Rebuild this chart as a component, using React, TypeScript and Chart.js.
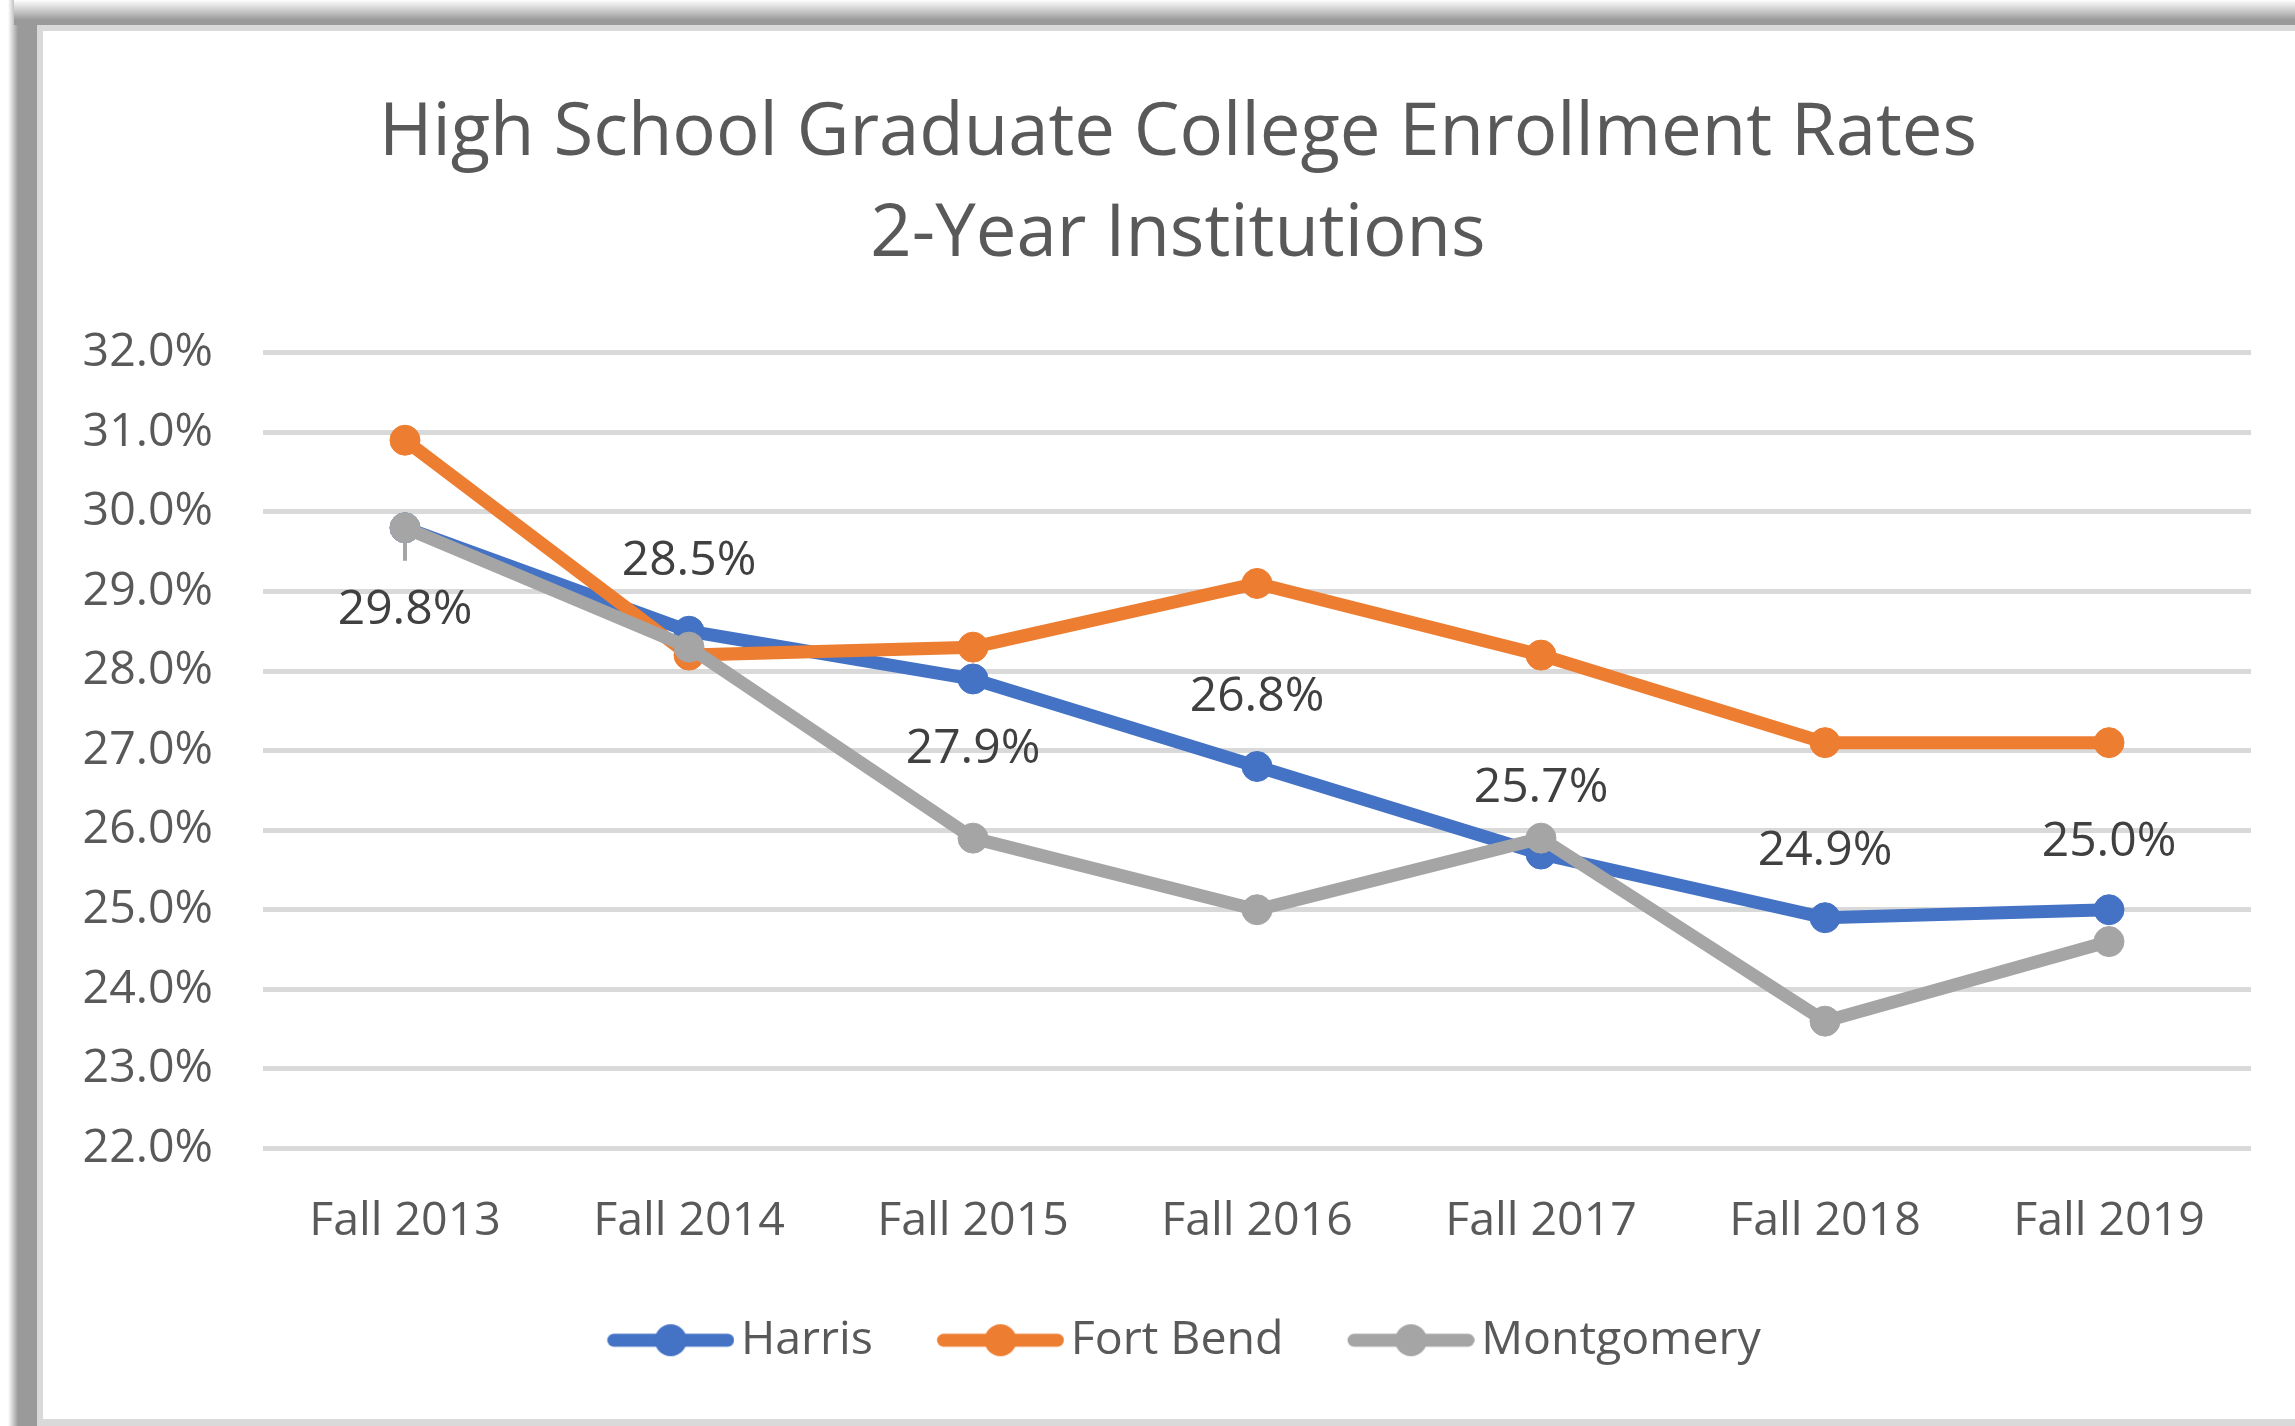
import React, { useEffect, useRef } from "react";
import { Chart, registerables } from "chart.js";

Chart.register(...registerables);

// ---- data ----
const categories = ["Fall 2013", "Fall 2014", "Fall 2015", "Fall 2016", "Fall 2017", "Fall 2018", "Fall 2019"];
const seriesNames = ["Harris", "Fort Bend", "Montgomery"];
const harris = [29.8, 28.5, 27.9, 26.8, 25.7, 24.9, 25.0];
const fortBend = [30.9, 28.2, 28.3, 29.1, 28.2, 27.1, 27.1];
const montgomery = [29.8, 28.3, 25.9, 25.0, 25.9, 23.6, 24.6];
const yMin = 22;
const yMax = 32;
const yStep = 1;
const titleLines = ["High School Graduate College Enrollment Rates", "2-Year Institutions"];

// ---- styles ----
const COLORS = ["#4472C4", "#ED7D31", "#A5A5A5"];
const FONT = "'Open Sans', 'Noto Sans', sans-serif";
const TEXT = "#595959";
// vertical offset (px) of each Harris data label from its point
const harrisLabelOffsets = [79, -73, 67, -73, -69, -70, -71];
// horizontal nudges of the title and legend blocks (px)
const TITLE_SHIFT = 16;
const LEGEND_SHIFT = 22;

const CW = 2252;
const CH = 1388;

function makeLegendSymbol(color: string): HTMLCanvasElement {
  const c = document.createElement("canvas");
  c.width = 144;
  c.height = 36;
  const ctx = c.getContext("2d")!;
  const a = 16.75;
  const L = 127;
  const cy = 18;
  ctx.strokeStyle = color;
  ctx.lineWidth = 13;
  ctx.lineCap = "round";
  ctx.beginPath();
  ctx.moveTo(a + 6.5, cy);
  ctx.lineTo(a + L - 6.5, cy);
  ctx.stroke();
  ctx.fillStyle = color;
  ctx.beginPath();
  ctx.arc(a + L / 2, cy, 16, 0, Math.PI * 2);
  ctx.fill();
  return c;
}

const harrisLabelPlugin = {
  id: "harrisLabels",
  afterDatasetsDraw(chart: any) {
    const meta = chart.getDatasetMeta(0);
    const ctx = chart.ctx as CanvasRenderingContext2D;
    ctx.save();
    ctx.font = `48px ${FONT}`;
    ctx.fillStyle = "#404040";
    ctx.textAlign = "center";
    ctx.textBaseline = "middle";
    meta.data.forEach((pt: any, i: number) => {
      const off = harrisLabelOffsets[i];
      if (i === 0) {
        ctx.strokeStyle = "#A5A5A5";
        ctx.lineWidth = 4;
        ctx.beginPath();
        ctx.moveTo(pt.x, pt.y + 14);
        ctx.lineTo(pt.x, pt.y + 33);
        ctx.stroke();
      }
      ctx.fillText(harris[i].toFixed(1) + "%", pt.x, pt.y + off + 3.4);
    });
    ctx.restore();
  },
};

const shiftBlocksPlugin = {
  id: "shiftBlocks",
  afterLayout(chart: any) {
    const t = chart.titleBlock;
    if (t) {
      t.left += TITLE_SHIFT;
      t.right += TITLE_SHIFT;
    }
    const l = chart.legend;
    if (l) {
      l.left += LEGEND_SHIFT;
      l.right += LEGEND_SHIFT;
    }
  },
};

export default function App() {
  const ref = useRef<HTMLCanvasElement | null>(null);

  useEffect(() => {
    if (!ref.current) return;
    const symbols = COLORS.map(makeLegendSymbol);
    const seriesData = [harris, fortBend, montgomery];
    const chart = new Chart(ref.current, {
      type: "line",
      data: {
        labels: categories,
        datasets: seriesNames.map((name, i) => ({
          label: name,
          data: seriesData[i],
          borderColor: COLORS[i],
          backgroundColor: COLORS[i],
          pointBackgroundColor: COLORS[i],
          pointBorderColor: COLORS[i],
          borderWidth: 13,
          pointRadius: 15,
          pointBorderWidth: 1,
          tension: 0,
          fill: false,
          order: 2 - i,
        })),
      },
      options: {
        responsive: false,
        animation: false,
        devicePixelRatio: 1,
        layout: { padding: { left: 30, right: 44, top: 0, bottom: 45.5 } },
        scales: {
          x: {
            type: "category",
            offset: true,
            grid: { display: false },
            border: { display: false },
            ticks: {
              color: TEXT,
              font: { family: FONT, size: 46.5 },
              padding: 37,
              maxRotation: 0,
              autoSkip: false,
            },
            afterFit: (s: any) => {
              s.height = 104.5;
            },
          },
          y: {
            min: yMin,
            max: yMax,
            grid: { color: "#D9D9D9", lineWidth: 5, drawTicks: false },
            border: { display: false },
            ticks: {
              stepSize: yStep,
              color: TEXT,
              font: { family: FONT, size: 46.5 },
              padding: 50,
              callback: (v: any) => Number(v).toFixed(1) + "%",
            },
            afterFit: (s: any) => {
              s.width = 190;
            },
          },
        },
        plugins: {
          title: {
            display: true,
            text: titleLines,
            color: TEXT,
            font: { family: FONT, size: 72.5, weight: "normal", lineHeight: 101 / 72.5 },
            padding: { top: 52.5, bottom: 67.2 },
          },
          legend: {
            position: "bottom",
            labels: {
              usePointStyle: true,
              pointStyleWidth: 110.5,
              padding: 64,
              color: TEXT,
              font: { family: FONT, size: 46.5 },
              generateLabels: () =>
                seriesNames.map((name, i) => ({
                  text: name,
                  pointStyle: symbols[i] as any,
                  fillStyle: COLORS[i],
                  strokeStyle: "rgba(0,0,0,0)",
                  lineWidth: 0,
                  hidden: false,
                  datasetIndex: i,
                  fontColor: TEXT,
                })),
            },
          },
          tooltip: { enabled: false },
        },
      } as any,
      plugins: [harrisLabelPlugin, shiftBlocksPlugin],
    });
    return () => chart.destroy();
  }, []);

  return (
    <div style={{ position: "absolute", left: 0, top: 0, width: 2295, height: 1426, overflow: "hidden", background: "#ffffff" }}>
      <div
        style={{
          position: "absolute",
          left: 0,
          top: 0,
          width: 37,
          height: 1426,
          background: "linear-gradient(to right, #ffffff 8px, #9a9a9a 18px, #9a9a9a 37px)",
        }}
      />
      <div
        style={{
          position: "absolute",
          left: 14,
          top: 0,
          width: 2281,
          height: 25,
          background: "linear-gradient(to bottom, #ffffff 0px, #9a9a9a 20px, #9a9a9a 25px)",
        }}
      />
      <div style={{ position: "absolute", left: 37, top: 25, width: 2258, height: 1401, background: "#d9d9d9" }} />
      <div style={{ position: "absolute", left: 43, top: 31, width: CW, height: CH, background: "#ffffff" }} />
      <canvas
        ref={ref}
        width={CW}
        height={CH}
        style={{ position: "absolute", left: 43, top: 31, width: CW, height: CH }}
      />
    </div>
  );
}
